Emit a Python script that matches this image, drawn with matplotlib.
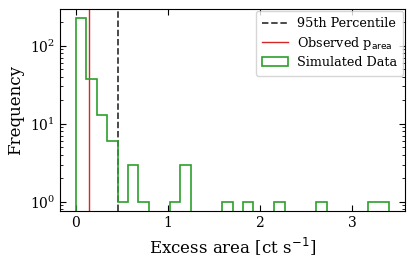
import numpy as np
import matplotlib
matplotlib.use("Agg")
import matplotlib.pyplot as plt

# Data
counts = [224, 37, 13, 6, 1, 3, 1, 0, 0, 1, 3, 0, 0, 0, 1,
          0, 1, 0, 0, 1, 0, 0, 0, 1, 0, 0, 0, 0, 1, 1]
bin_lo = 0.0
bin_hi = 3.405
p95 = 0.455
observed = 0.147

edges = np.linspace(bin_lo, bin_hi, len(counts) + 1)
centers = 0.5 * (edges[:-1] + edges[1:])

plt.rcParams['font.family'] = ['DejaVu Serif']

fig = plt.figure(figsize=(4.15, 2.61), dpi=100)
ax = fig.add_axes([60/415, 1-211/261, (405-60)/415, (211-9)/261])

ax.axvline(p95, color='#333333', ls='--', lw=1.25, label='95th Percentile')
ax.axvline(observed, color='tab:red', lw=1.0, label=r'Observed p$_{\rm area}$')
ax.hist(centers, bins=edges, weights=counts, histtype='step',
        color='tab:green', lw=1.2, label='Simulated Data', log=True)

ax.set_xlabel(r'Excess area [ct s$^{-1}$]', fontsize=12)
ax.set_ylabel('Frequency', fontsize=12)
ax.tick_params(which='both', direction='in', top=True, right=True, labelsize=10)
ax.tick_params(which='major', length=4)
ax.tick_params(which='minor', length=2)
ax.set_xticks([0, 1, 2, 3])
ax.legend(loc='upper right', fontsize=9.2, handlelength=2.0, borderpad=0.5,
          labelspacing=0.35, handletextpad=0.7, borderaxespad=0.15)

fig.savefig('out.png', dpi=100)
